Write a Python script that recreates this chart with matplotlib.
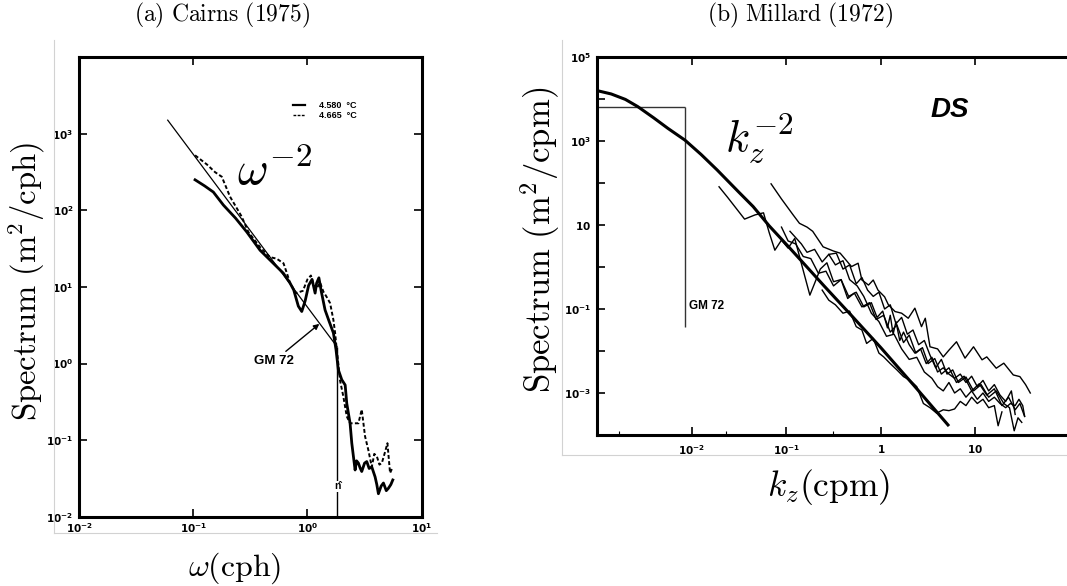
import numpy as np
import matplotlib
matplotlib.use('Agg')
import matplotlib.pyplot as plt
from matplotlib.lines import Line2D

plt.rcParams['mathtext.fontset'] = 'cm'

W, H = 1067, 586  # output size in pixels

#%% (a) Cairns (1975): log10 of frequency (cph) and spectrum (m^2/cph)
cairns_w_solid = [-0.984, -0.90, -0.824, -0.736, -0.63, -0.532, -0.415, -0.313, -0.211,
                  -0.152, -0.12, -0.08, -0.05, -0.02, 0.01, 0.04, 0.067, 0.08, 0.10, 0.12,
                  0.154, 0.19, 0.227, 0.25, 0.27, 0.30, 0.33, 0.344, 0.373, 0.388, 0.402,
                  0.417, 0.43, 0.446, 0.46, 0.475, 0.50, 0.519, 0.54, 0.563, 0.592, 0.607,
                  0.621, 0.645, 0.665, 0.69, 0.708, 0.73, 0.747]
cairns_s_solid = [2.40, 2.32, 2.24, 2.07, 1.90, 1.72, 1.48, 1.33, 1.18,
                  1.05, 0.96, 0.75, 0.68, 0.82, 1.02, 1.10, 0.92, 1.05, 1.12, 0.95,
                  0.70, 0.55, 0.40, 0.18, -0.08, -0.21, -0.28, -0.52, -0.78, -1.04, -1.21,
                  -1.39, -1.27, -1.30, -1.36, -1.41, -1.30, -1.28, -1.37, -1.35, -1.48, -1.58,
                  -1.70, -1.60, -1.56, -1.66, -1.63, -1.58, -1.52]
cairns_w_dash = [-0.984, -0.88, -0.809, -0.75, -0.678, -0.576, -0.518, -0.415, -0.328,
                 -0.27, -0.21, -0.18, -0.152, -0.10, -0.04, 0.0, 0.03, 0.06, 0.081, 0.11,
                 0.139, 0.168, 0.198, 0.227, 0.242, 0.255, 0.27, 0.285, 0.314, 0.344,
                 0.373, 0.446, 0.475, 0.504, 0.533, 0.563, 0.585, 0.607, 0.63, 0.651,
                 0.68, 0.70, 0.723, 0.747]
cairns_s_dash = [2.72, 2.60, 2.50, 2.44, 2.18, 1.92, 1.72, 1.52, 1.39,
                 1.37, 1.31, 1.18, 1.05, 0.92, 0.95, 1.10, 1.15, 1.00, 0.98, 1.06,
                 0.94, 0.87, 0.79, 0.57, 0.40, 0.20, 0.00, -0.22, -0.43, -0.69,
                 -0.78, -0.78, -0.60, -0.95, -1.13, -1.35, -1.18, -1.21, -1.32, -1.30,
                 -1.15, -1.04, -1.43, -1.35]
gm_omega = [0.0598, 1.82]   # cph
gm_spec = [1510., 1.65]     # m^2/cph
n_buoy = 1.82               # cph
cairns_legend = ['4.580  °C', '4.665  °C']

#%% (b) Millard (1972): log10 of vertical wavenumber (cpm) and spectrum (m^2/cpm)
model_k = [-3.0, -2.85, -2.7, -2.57, -2.4, -2.25, -2.07, -1.9, -1.73, -1.5, -1.35,
           -1.18, -0.96, -0.6, -0.3, 0.0, 0.35, 0.71]
model_s = [4.20, 4.12, 3.99, 3.82, 3.55, 3.30, 3.02, 2.68, 2.31, 1.78, 1.44,
           0.98, 0.445, -0.45, -1.18, -1.92, -2.82, -3.76]
prof1_k = [-1.16, -1.05, -0.93, -0.86, -0.78, -0.72, -0.61, -0.50, -0.43, -0.31, -0.24,
           -0.20, -0.13, -0.08, -0.03, 0.04, 0.08, 0.15, 0.22, 0.29, 0.36, 0.43, 0.47,
           0.52, 0.60, 0.66, 0.72, 0.80, 0.89, 0.98, 1.07, 1.12, 1.22, 1.30, 1.40, 1.47,
           1.53, 1.58]
prof1_s = [1.98, 1.62, 1.25, 1.04, 0.95, 0.85, 0.48, 0.38, 0.33, 0.01, 0.09,
           -0.31, -0.43, -0.31, -0.55, -0.71, -0.90, -1.06, -1.10, -1.22, -0.98, -1.42, -1.22,
           -1.90, -1.95, -2.14, -1.98, -1.78, -2.17, -1.90, -2.21, -2.14, -2.41, -2.29, -2.57, -2.61,
           -2.80, -3.00]
prof2_k = [-1.71, -1.62, -1.53, -1.44, -1.33, -1.24, -1.18, -1.12, -1.05, -0.98, -0.91,
           -0.83, -0.75, -0.70, -0.64, -0.57, -0.50, -0.42, -0.35, -0.28, -0.20, -0.12,
           -0.05, 0.03, 0.10, 0.17, 0.24, 0.30, 0.37, 0.44, 0.50, 0.57, 0.64, 0.72, 0.80,
           0.88, 0.96, 1.04, 1.12, 1.20, 1.28, 1.35, 1.42, 1.47, 1.52]
prof2_s = [1.91, 1.66, 1.40, 1.14, 1.24, 1.29, 0.82, 0.40, 0.64, 0.45, 0.68,
           0.00, -0.67, -0.39, -0.05, 0.10, -0.35, -0.30, -0.75, -0.62, -0.95, -0.85,
           -1.25, -1.15, -1.55, -1.38, -1.80, -1.62, -2.05, -1.92, -2.30, -2.18, -2.55, -2.40, -2.75,
           -2.60, -2.95, -2.78, -3.05, -2.90, -3.30, -3.10, -3.40, -3.25, -3.56]
prof3_k = [-0.96, -0.90, -0.84, -0.78, -0.70, -0.62, -0.55, -0.47, -0.40, -0.33, -0.26,
           -0.20, -0.14, -0.08, -0.02, 0.04, 0.10, 0.16, 0.22, 0.28, 0.34, 0.40, 0.46,
           0.52, 0.58, 0.64, 0.70, 0.76, 0.82, 0.90, 0.98, 1.06, 1.14, 1.22, 1.30, 1.36,
           1.41, 1.45, 1.49]
prof3_s = [0.85, 0.70, 0.55, 0.35, 0.42, 0.12, 0.30, 0.33, -0.05, 0.05, -0.40,
           -0.25, -0.55, -0.70, -0.60, -1.00, -0.90, -1.35, -1.20, -1.60, -1.50, -1.85, -1.75,
           -2.10, -2.40, -2.20, -2.55, -2.45, -2.75, -2.62, -2.95, -2.80, -3.10, -2.95, -3.25, -3.35,
           -3.90, -3.59, -3.70]
prof4_k = [-0.62, -0.55, -0.48, -0.40, -0.33, -0.26, -0.20, -0.15, -0.08, -0.02, 0.03,
           0.10, 0.17, 0.24, 0.31, 0.38, 0.45, 0.52, 0.59, 0.66, 0.72, 0.78, 0.84, 0.90,
           0.96, 1.02, 1.08, 1.14, 1.20, 1.24, 1.28]
prof4_s = [-0.55, -0.79, -0.90, -1.10, -1.05, -1.42, -1.50, -1.82, -1.70, -2.05, -2.14,
           -2.30, -2.45, -2.61, -2.70, -2.85, -3.25, -3.35, -3.48, -3.40, -3.42, -3.38, -3.20, -3.30,
           -3.10, -3.25, -3.15, -3.35, -3.30, -3.78, -3.45]
prof5_k = [-1.05, -0.98, -0.90, -0.82, -0.74, -0.66, -0.58, -0.50, -0.42, -0.34, -0.26,
           -0.18, -0.10, -0.04, 0.02, 0.07, 0.10, 0.13, 0.16, 0.20, 0.24, 0.30, 0.36, 0.42,
           0.48, 0.54, 0.60, 0.66, 0.72, 0.78, 0.84, 0.90, 0.96, 1.02, 1.08, 1.14, 1.20,
           1.26, 1.32, 1.38, 1.42]
prof5_s = [0.95, 0.62, 0.55, 0.25, 0.20, -0.15, -0.10, -0.45, -0.30, -0.70, -0.60,
           -0.95, -0.85, -1.20, -1.05, -1.45, -1.15, -1.60, -1.30, -1.75, -1.55, -1.85, -2.05, -1.95,
           -2.30, -2.15, -2.50, -2.40, -2.55, -2.65, -2.55, -2.75, -2.60, -2.85, -2.70, -2.95, -2.80,
           -3.05, -3.20, -2.95, -3.51]
prof6_k = [-0.55, -0.48, -0.40, -0.33, -0.25, -0.18, -0.10, -0.02, 0.06, 0.14, 0.22,
           0.30, 0.38, 0.46, 0.54, 0.60, 0.66, 0.72, 0.78, 0.84, 0.90, 0.96, 1.02, 1.08,
           1.14, 1.20, 1.26, 1.32, 1.37, 1.42, 1.46, 1.50, 1.52]
prof6_s = [0.30, 0.05, 0.15, -0.30, -0.45, -0.70, -1.10, -1.30, -1.65, -1.60, -1.95,
           -2.20, -2.15, -2.50, -2.65, -2.85, -2.95, -2.75, -3.00, -2.90, -3.10, -2.95, -3.15, -3.00,
           -3.20, -3.10, -3.25, -3.35, -3.25, -3.30, -3.15, -3.30, -3.55]
gm_box_k = 0.0085     # cpm
gm_box_top = 6600.    # m^2/cpm
gm_box_bottom = 0.038

#%% helpers
def px_box(left, top, right, bottom):
    return [left/W, 1 - bottom/H, (right - left)/W, (bottom - top)/H]

def dec_label(e):
    return r'$\mathbf{10^{%d}}$' % e

tick_font = dict(math_fontfamily='dejavusans', fontsize=7.5)
sans = ['Liberation Sans', 'DejaVu Sans']

fig = plt.figure(figsize=(W/100., H/100.), dpi=100)

#%% panel (a)
axA = fig.add_axes(px_box(79, 57.3, 421.7, 516.7))
axA.set_xscale('log')
axA.set_yscale('log')
axA.set_xlim(1e-2, 1e1)
axA.set_ylim(1e-2, 1e4)

axA.plot(gm_omega, gm_spec, color='k', lw=0.9)
axA.plot(10**np.array(cairns_w_solid), 10**np.array(cairns_s_solid), color='k', lw=2.0,
         solid_joinstyle='round')
axA.plot(10**np.array(cairns_w_dash), 10**np.array(cairns_s_dash), color='k', lw=1.4,
         ls=(0, (2.0, 1.2)))
axA.vlines(n_buoy, 1e-2, gm_spec[-1], color='k', lw=1.0)
axA.text(n_buoy, 0.025, 'n\u0302', ha='center', va='center', fontsize=7.5,
         fontweight='bold', family=sans,
         bbox=dict(facecolor='white', edgecolor='none', pad=0.3))
axA.annotate('GM 72', xy=(1.27, 3.3), xytext=(0.51, 1.08), ha='center', va='center',
             fontsize=9.5, fontweight='bold', family=sans,
             arrowprops=dict(arrowstyle='-|>', color='k', lw=1.0, mutation_scale=8,
                             shrinkA=1, shrinkB=0))
axA.text(0.242, 214, r'$\omega^{-2}$', fontsize=34, ha='left', va='baseline')

# little key for the two temperature records
axA.plot([0.624, 0.659], [0.896, 0.896], color='k', lw=1.6, transform=axA.transAxes)
axA.plot([0.624, 0.659], [0.874, 0.874], color='k', lw=1.0, ls=(0, (2, 1)),
         transform=axA.transAxes)
for yk, lab in zip([0.896, 0.874], cairns_legend):
    axA.text(0.70, yk, lab, transform=axA.transAxes, fontsize=6.5, fontweight='bold',
             family=sans, ha='left', va='center')

axA.set_xticks([1e-2, 1e-1, 1e0, 1e1], [dec_label(e) for e in (-2, -1, 0, 1)], **tick_font)
axA.set_yticks([1e-2, 1e-1, 1e0, 1e1, 1e2, 1e3, 1e4],
               [dec_label(e) for e in (-2, -1, 0, 1, 2, 3)] + [''], **tick_font)
axA.minorticks_off()
axA.tick_params(direction='in', length=6, width=1.2, top=True, right=True)
axA.tick_params(axis='y', pad=4)
axA.tick_params(axis='x', pad=3)
for sp in axA.spines.values():
    sp.set_linewidth(2.2)

#%% panel (b)
axB = fig.add_axes(px_box(597, 57, 1067, 435))
axB.set_xscale('log')
axB.set_yscale('log')
axB.set_xlim(1e-3, 10**1.968)
axB.set_ylim(1e-4, 1e5)

axB.hlines(gm_box_top, 1e-3, gm_box_k, color='#333333', lw=1.0)
axB.vlines(gm_box_k, gm_box_bottom, gm_box_top, color='#333333', lw=1.0)
axB.text(gm_box_k*1.1, 0.115, 'GM 72', fontsize=8.5, fontweight='bold', family=sans,
         ha='left', va='center')

for pk, ps in [(prof1_k, prof1_s), (prof2_k, prof2_s), (prof3_k, prof3_s),
               (prof4_k, prof4_s), (prof5_k, prof5_s), (prof6_k, prof6_s)]:
    axB.plot(10**np.array(pk), 10**np.array(ps), color='k', lw=1.0)
axB.plot(10**np.array(model_k), 10**np.array(model_s), color='k', lw=2.2)

axB.text(0.0225, 550, r'$k_z^{-2}$', fontsize=32, ha='left', va='baseline')
axB.text(5.4, 5500, 'DS', fontsize=20, fontweight='bold', fontstyle='italic',
         family=sans, ha='center', va='center')

axB.set_xticks([1e-3, 1e-2, 1e-1, 1e0, 1e1],
               ['', dec_label(-2), dec_label(-1), r'$\mathbf{1}$', r'$\mathbf{10}$'],
               **tick_font)
axB.set_yticks([10.0**e for e in range(-4, 6)],
               ['' if e % 2 == 0 else (r'$\mathbf{10}$' if e == 1 else dec_label(e))
                for e in range(-4, 6)], **tick_font)
axB.set_xticks([1.7e-3, 2.3e-2, 0.31], minor=True)
axB.yaxis.set_minor_locator(matplotlib.ticker.NullLocator())
axB.xaxis.set_minor_formatter(matplotlib.ticker.NullFormatter())
axB.tick_params(direction='in', length=6, width=1.2, top=True, right=False)
axB.tick_params(which='minor', direction='in', length=3, width=0.8, top=False)
axB.tick_params(axis='y', pad=4)
axB.tick_params(axis='x', pad=6)
axB.spines['right'].set_visible(False)
for sp in ['left', 'top', 'bottom']:
    axB.spines[sp].set_linewidth(2.2)

#%% scanned page edges
edge = '#d2d2d2'
fig.add_artist(Line2D([54/W, 54/W], [1 - 40/H, 1 - 533/H], color=edge, lw=0.8))
fig.add_artist(Line2D([54/W, 437/W], [1 - 533/H, 1 - 533/H], color=edge, lw=0.8))
fig.add_artist(Line2D([562/W, 562/W], [1 - 40/H, 1 - 455/H], color=edge, lw=0.8))
fig.add_artist(Line2D([562/W, 1.0], [1 - 455/H, 1 - 455/H], color=edge, lw=0.8))

#%% titles and axis labels
fig.text(222.5/W, 1 - 15/H, r'$\mathrm{(a)\ Cairns\ (1975)}$', fontsize=17,
         ha='center', va='center')
fig.text(800/W, 1 - 15/H, r'$\mathrm{(b)\ Millard\ (1972)}$', fontsize=17,
         ha='center', va='center')
fig.text(27/W, 1 - 282/H, r'$\mathrm{Spectrum\ (m^2/cph)}$', fontsize=23.5,
         rotation=90, ha='center', va='center')
fig.text(540/W, 1 - 240/H, r'$\mathrm{Spectrum\ (m^2/cpm)}$', fontsize=25,
         rotation=90, ha='center', va='center')
fig.text(235/W, 1 - 568/H, r'$\omega\mathrm{(cph)}$', fontsize=23,
         ha='center', va='center')
fig.text(829/W, 1 - 487/H, r'$k_z\mathrm{(cpm)}$', fontsize=25.5,
         ha='center', va='center')

fig.savefig('out.png', dpi=100)
